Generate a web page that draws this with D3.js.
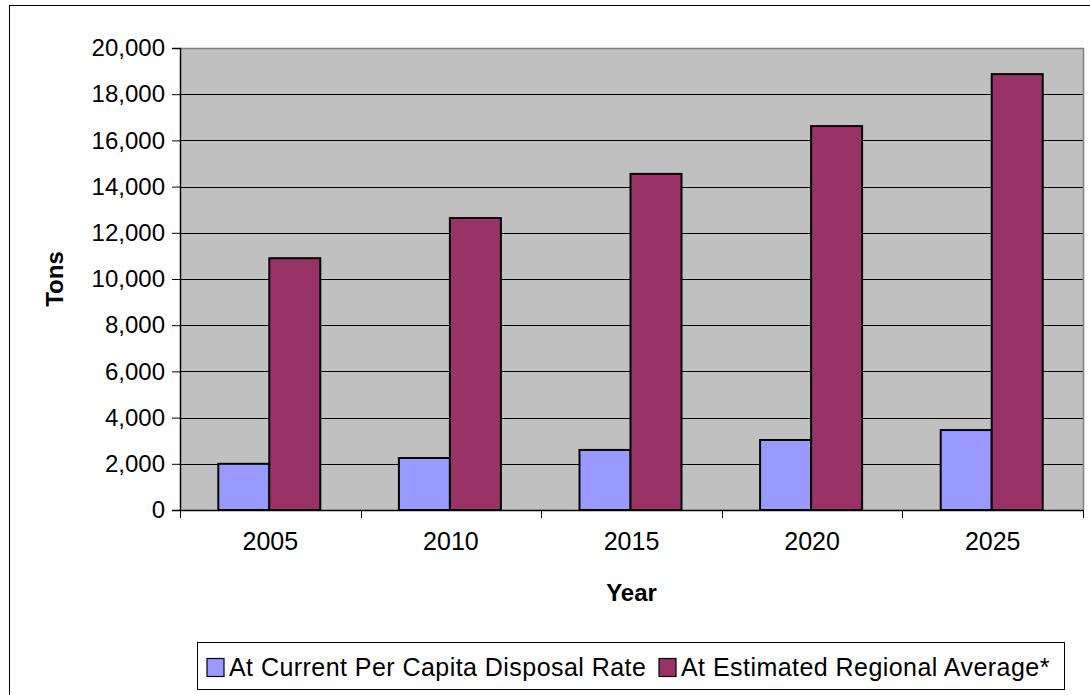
<!DOCTYPE html>
<html>
<head>
<meta charset="utf-8">
<script src="https://cdn.jsdelivr.net/npm/d3@7"></script>
<style>
  html, body { margin: 0; padding: 0; background: #fff; }
  svg { display: block; font-family: "Liberation Sans", Arial, sans-serif; }
</style>
</head>
<body>
<svg id="chart" width="1090" height="695"></svg>
<script>
// Projected disposal tonnage by year, two scenarios
const years = ["2005", "2010", "2015", "2020", "2025"];
const currentRate = [2000, 2250, 2600, 3030, 3460];
const regionalAverage = [10900, 12640, 14550, 16620, 18870];
const seriesNames = ["At Current Per Capita Disposal Rate", "At Estimated Regional Average*"];
const seriesColors = ["#9999ff", "#993366"];
const yTicks = [0, 2000, 4000, 6000, 8000, 10000, 12000, 14000, 16000, 18000, 20000];

const svg = d3.select("#chart");
const plot = { left: 180, top: 48, right: 1083, bottom: 510 };

// outer chart frame
svg.append("rect")
  .attr("x", 9.5).attr("y", 5.5)
  .attr("width", 1100).attr("height", 720)
  .attr("fill", "#fff").attr("stroke", "#000").attr("stroke-width", 1);

const x = d3.scaleBand().domain(years).range([plot.left, plot.right]).paddingInner(0).paddingOuter(0);
const y = d3.scaleLinear().domain([0, 20000]).range([plot.bottom, plot.top]);

// plot background
svg.append("rect")
  .attr("x", plot.left).attr("y", plot.top)
  .attr("width", plot.right - plot.left).attr("height", plot.bottom - plot.top)
  .attr("fill", "#c0c0c0");

// gridlines
svg.append("g").selectAll("line")
  .data(yTicks.filter(d => d > 0 && d < 20000))
  .join("line")
  .attr("x1", plot.left).attr("x2", plot.right)
  .attr("y1", d => Math.round(y(d)) + 0.5).attr("y2", d => Math.round(y(d)) + 0.5)
  .attr("stroke", "#000").attr("stroke-width", 1);

// plot area border (top and right)
svg.append("path")
  .attr("d", `M${plot.left},${plot.top + 0.5}H${plot.right + 0.5}V${plot.bottom}`)
  .attr("fill", "none").attr("stroke", "#808080").attr("stroke-width", 1.5);

// bars
const series = [currentRate, regionalAverage];
const barW = 51;
series.forEach((vals, si) => {
  svg.append("g").selectAll("rect")
    .data(years.map((yr, i) => ({ yr, v: vals[i] })))
    .join("rect")
    .attr("x", d => x(d.yr) + x.bandwidth() / 2 - barW + si * barW - 1)
    .attr("y", d => y(d.v))
    .attr("width", barW)
    .attr("height", d => y(0) - y(d.v))
    .attr("fill", seriesColors[si])
    .attr("stroke", "#000").attr("stroke-width", 2);
});

// y axis
const yAxis = svg.append("g")
  .attr("transform", `translate(${plot.left},0)`)
  .call(d3.axisLeft(y).tickValues(yTicks).tickFormat(d3.format(",")).tickSizeOuter(0).tickSize(8).tickPadding(7));
yAxis.select(".domain").attr("stroke", "#000").attr("stroke-width", 1.5);
yAxis.selectAll(".tick line").attr("stroke", "#000");
yAxis.selectAll("text").attr("font-size", 24).attr("fill", "#000")
  .style("font-family", "'Liberation Sans', Arial, sans-serif");

// x axis
const xAxis = svg.append("g")
  .attr("transform", `translate(0,${plot.bottom})`)
  .call(d3.axisBottom(x).tickSize(0).tickPadding(22));
xAxis.select(".domain").attr("stroke", "#000").attr("stroke-width", 1.5);
xAxis.selectAll("text").attr("font-size", 25).attr("fill", "#000")
  .style("font-family", "'Liberation Sans', Arial, sans-serif");
// category boundary ticks
svg.append("g").selectAll("line")
  .data(years.map(yr => x(yr)).concat([plot.right]))
  .join("line")
  .attr("x1", d => Math.round(d) + 0.5).attr("x2", d => Math.round(d) + 0.5)
  .attr("y1", plot.bottom).attr("y2", plot.bottom + 8)
  .attr("stroke", "#000");

// axis titles
svg.append("text")
  .attr("transform", `translate(63,${(plot.top + plot.bottom) / 2}) rotate(-90)`)
  .attr("text-anchor", "middle")
  .attr("font-size", 24).attr("font-weight", "bold")
  .text("Tons");
svg.append("text")
  .attr("x", (plot.left + plot.right) / 2).attr("y", 601)
  .attr("text-anchor", "middle")
  .attr("font-size", 24).attr("font-weight", "bold")
  .text("Year");

// legend
const legend = svg.append("g");
legend.append("rect")
  .attr("x", 197.5).attr("y", 642.5).attr("width", 867).attr("height", 47)
  .attr("fill", "#fff").attr("stroke", "#000");
const legendItems = [{ x: 207 }, { x: 659 }];
legendItems.forEach((it, i) => {
  legend.append("rect")
    .attr("x", it.x).attr("y", 658.5).attr("width", 17).attr("height", 18)
    .attr("fill", seriesColors[i]).attr("stroke", "#000").attr("stroke-width", 1.2);
  legend.append("text")
    .attr("x", it.x + 22).attr("y", 676)
    .attr("font-size", 25)
    .attr("letter-spacing", 0.45)
    .text(seriesNames[i]);
});
</script>
</body>
</html>
